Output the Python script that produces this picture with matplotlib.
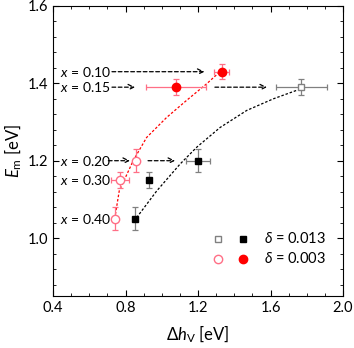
import matplotlib.pyplot as plt
from matplotlib.ticker import MultipleLocator

plt.rcParams['font.family'] = ['Lato', 'DejaVu Sans']
plt.rcParams['mathtext.fontset'] = 'custom'
plt.rcParams['mathtext.it'] = 'Lato:italic'
plt.rcParams['mathtext.rm'] = 'Lato'

# compositions
labels = ["x = 0.10", "x = 0.15", "x = 0.20", "x = 0.30", "x = 0.40"]
label_y = [1.43, 1.39, 1.20, 1.15, 1.05]

# delta = 0.013 (squares)
sq_x = [1.77, 1.20, 0.93, 0.85]
sq_y = [1.39, 1.20, 1.15, 1.05]
sq_xerr = [0.14, 0.065, 0.0, 0.0]
sq_yerr = [0.02, 0.03, 0.02, 0.03]
sq_open = [True, False, False, False]

# delta = 0.003 (circles)
ci_x = [1.33, 1.08, 0.86, 0.77, 0.74]
ci_y = [1.43, 1.39, 1.20, 1.15, 1.05]
ci_xerr = [0.04, 0.165, 0.0, 0.05, 0.0]
ci_yerr = [0.02, 0.02, 0.03, 0.02, 0.03]
ci_open = [False, False, True, True, True]

# dashed guide curves
red_fit_x = [0.74, 0.765, 0.842, 0.916, 1.027, 1.137, 1.248, 1.321]
red_fit_y = [1.05, 1.122, 1.20, 1.26, 1.312, 1.356, 1.399, 1.43]
blk_fit_x = [0.861, 0.972, 1.10, 1.193, 1.322, 1.469, 1.616, 1.745]
blk_fit_y = [1.053, 1.122, 1.191, 1.235, 1.286, 1.33, 1.36, 1.382]

# arrows (start x, end x, y)
arrows = [(0.725, 1.235, 1.43), (0.725, 0.852, 1.39), (1.293, 1.58, 1.39),
          (0.705, 0.824, 1.20), (0.924, 1.073, 1.20)]

red = '#ff0000'
pink = '#ff6f86'
grey = '#808080'

fig = plt.figure(figsize=(3.54, 3.48), dpi=100)
ax = fig.add_axes([0.150, 0.149, 0.819, 0.834])

ax.plot(red_fit_x, red_fit_y, ls=(0, (2, 1.5)), color=red, lw=0.9)
ax.plot(blk_fit_x, blk_fit_y, ls=(0, (2, 1.5)), color='black', lw=0.9)

for x, y, xe, ye, op in zip(sq_x, sq_y, sq_xerr, sq_yerr, sq_open):
    ax.errorbar(x, y, xerr=xe if xe else None, yerr=ye, fmt='s', ms=5,
                mfc='white' if op else 'black', mec=grey if op else 'black',
                ecolor=grey, elinewidth=0.9, capsize=2.5, capthick=0.9, zorder=3)

for x, y, xe, ye, op in zip(ci_x, ci_y, ci_xerr, ci_yerr, ci_open):
    ax.errorbar(x, y, xerr=xe if xe else None, yerr=ye, fmt='o', ms=6,
                mfc='white' if op else red, mec=pink if op else red,
                ecolor=pink, elinewidth=0.9, capsize=2.5, capthick=0.9, zorder=3)

# composition labels and arrows
arr = dict(arrowstyle='->', ls=(0, (3, 2)), lw=0.9, color='black', shrinkA=0, shrinkB=0)
for lab, y in zip(labels, label_y):
    ax.text(0.437, y, '$x$' + lab[1:], fontsize=10, va='center', ha='left')
for x0, x1, y in arrows:
    ax.annotate('', xy=(x1, y), xytext=(x0, y), arrowprops=arr)

# legend by hand
ax.plot(1.31, 0.998, 's', ms=5, mfc='white', mec=grey)
ax.plot(1.45, 0.998, 's', ms=5, mfc='black', mec='black')
ax.plot(1.31, 0.946, 'o', ms=6, mfc='white', mec=pink)
ax.plot(1.45, 0.946, 'o', ms=6, mfc=red, mec=red)
ax.text(1.565, 0.998, r'$\delta$ = 0.013', fontsize=10.5, va='center')
ax.text(1.565, 0.946, r'$\delta$ = 0.003', fontsize=10.5, va='center')

ax.set_xlim(0.4, 2.0)
ax.set_ylim(0.85, 1.6)
ax.xaxis.set_major_locator(MultipleLocator(0.4))
ax.xaxis.set_minor_locator(MultipleLocator(0.1))
ax.yaxis.set_major_locator(MultipleLocator(0.2))
ax.yaxis.set_minor_locator(MultipleLocator(0.04))
ax.tick_params(which='both', direction='in', top=True, right=True, labelsize=10.5)
ax.tick_params(which='major', length=4)
ax.tick_params(which='minor', length=2.5)
ax.set_xticklabels([f'{v:.1f}' for v in ax.get_xticks()])
ax.set_yticklabels([f'{v:.1f}' for v in ax.get_yticks()])
ax.set_xlabel(r'$\Delta h_{\rm V}$ [eV]', fontsize=12, labelpad=6)
ax.set_ylabel(r'$E_{\rm m}$ [eV]', fontsize=12, labelpad=3)

fig.savefig('out.png', dpi=100)
